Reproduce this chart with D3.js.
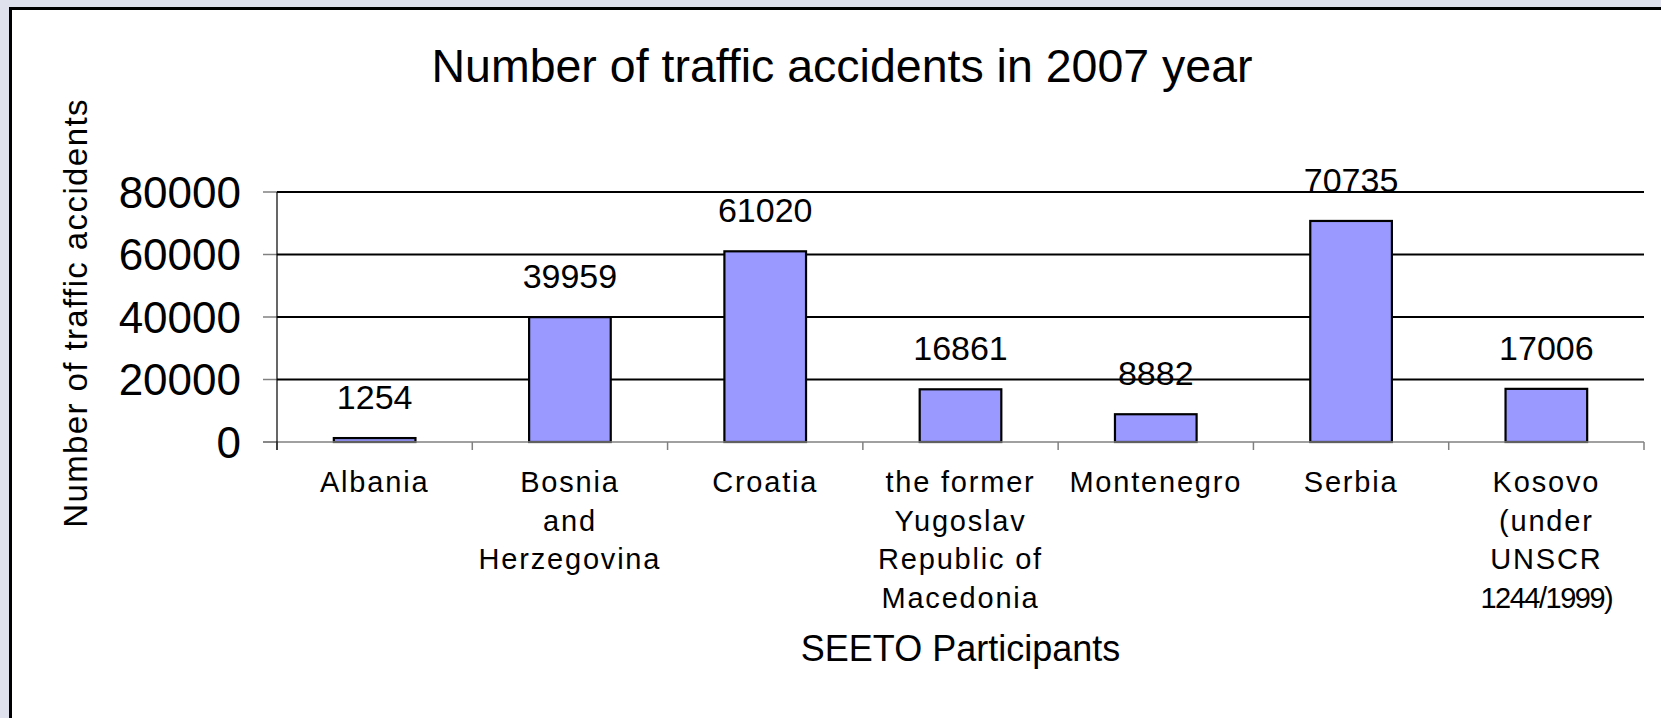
<!DOCTYPE html>
<html>
<head>
<meta charset="utf-8">
<script src="https://cdn.jsdelivr.net/npm/d3@7"></script>
<style>
  body { margin: 0; background: #dfe1ec; }
  svg { display: block; font-family: "Liberation Sans", Arial, sans-serif; }
</style>
</head>
<body>
<div class="graph"></div>
<script>
// chart data
var categories = [
  "Albania",
  "Bosnia\nand\nHerzegovina",
  "Croatia",
  "the former\nYugoslav\nRepublic of\nMacedonia",
  "Montenegro",
  "Serbia",
  "Kosovo\n(under\nUNSCR\n1244/1999)"
];
var accidents = [1254, 39959, 61020, 16861, 8882, 70735, 17006];
var yTicks = [0, 20000, 40000, 60000, 80000];

var chartTitle = "Number of traffic accidents in 2007 year";
var yTitle = "Number of traffic accidents";
var xTitle = "SEETO Participants";

// dimensions of the page and plot area
var W = 1661, H = 718;
var margin = {top: 192, right: 17, bottom: 276, left: 277},
    width = W - margin.left - margin.right,
    height = H - margin.top - margin.bottom;

var svg = d3.select(".graph").append("svg")
    .attr("width", W)
    .attr("height", H);

// white panel with its frame
svg.append("rect")
    .attr("x", 10.5).attr("y", 8.5)
    .attr("width", W + 50).attr("height", H + 50)
    .attr("fill", "#fff")
    .attr("stroke", "#000")
    .attr("stroke-width", 3);

var g = svg.append("g")
    .attr("transform", "translate(" + margin.left + "," + margin.top + ")");

// scales
var x = d3.scaleBand().domain(categories).range([0, width])
    .paddingInner(0.582).paddingOuter(0.291);
var xCell = d3.scaleBand().domain(categories).range([0, width]).padding(0);
var y = d3.scaleLinear().domain([0, 80000]).range([height, 0]);

// gridlines (black) with small gray ticks out to the left
g.selectAll("line.grid")
    .data(yTicks.filter(function(d) { return d > 0; }))
  .enter().append("line")
    .attr("class", "grid")
    .attr("x1", 0).attr("x2", width)
    .attr("y1", function(d) { return y(d); })
    .attr("y2", function(d) { return y(d); })
    .attr("stroke", "#000")
    .attr("stroke-width", 2);

g.selectAll("line.ytick")
    .data(yTicks)
  .enter().append("line")
    .attr("class", "ytick")
    .attr("x1", -14).attr("x2", 0)
    .attr("y1", function(d) { return y(d); })
    .attr("y2", function(d) { return y(d); })
    .attr("stroke", "#808080")
    .attr("stroke-width", 1.5);

// y tick labels
g.selectAll("text.ylab")
    .data(yTicks)
  .enter().append("text")
    .attr("class", "ylab")
    .attr("x", -36)
    .attr("y", function(d) { return y(d); })
    .attr("dy", "0.36em")
    .attr("text-anchor", "end")
    .style("font-size", "44px")
    .text(function(d) { return d; });

// bars
g.selectAll("rect.bar")
    .data(accidents)
  .enter().append("rect")
    .attr("class", "bar")
    .attr("x", function(d, i) { return x(categories[i]); })
    .attr("width", x.bandwidth())
    .attr("y", function(d) { return y(d); })
    .attr("height", function(d) { return height - y(d); })
    .attr("fill", "#9999ff")
    .attr("stroke", "#000")
    .attr("stroke-width", 2.2);

// value labels
g.selectAll("text.val")
    .data(accidents)
  .enter().append("text")
    .attr("class", "val")
    .attr("x", function(d, i) { return x(categories[i]) + x.bandwidth() / 2; })
    .attr("y", function(d) { return y(d) - 29; })
    .attr("text-anchor", "middle")
    .style("font-size", "34px")
    .text(function(d) { return d; });

// x axis baseline and category ticks
g.append("line")
    .attr("x1", -14).attr("x2", width)
    .attr("y1", height).attr("y2", height)
    .attr("stroke", "#808080")
    .attr("stroke-width", 1.5);

var cellEdges = categories.map(function(c) { return xCell(c); }).concat([width]);
g.selectAll("line.xtick")
    .data(cellEdges)
  .enter().append("line")
    .attr("class", "xtick")
    .attr("x1", function(d) { return d; })
    .attr("x2", function(d) { return d; })
    .attr("y1", height).attr("y2", height + 8)
    .attr("stroke", "#808080")
    .attr("stroke-width", 1.5);

// y axis line
g.append("line")
    .attr("x1", 0).attr("x2", 0)
    .attr("y1", 0).attr("y2", height + 8)
    .attr("stroke", "#000")
    .attr("stroke-width", 1.2);

// category labels, one tspan per line
var catText = g.selectAll("text.cat")
    .data(categories)
  .enter().append("text")
    .attr("class", "cat")
    .attr("text-anchor", "middle")
    .style("font-size", "29px")
    .style("letter-spacing", "1.8px")
    .attr("transform", function(d) {
      return "translate(" + (xCell(d) + xCell.bandwidth() / 2) + "," + (height + 50) + ")";
    });

catText.selectAll("tspan")
    .data(function(d) { return d.split("\n"); })
  .enter().append("tspan")
    .attr("x", 0)
    .attr("y", function(d, i) { return i * 38.5; })
    .style("letter-spacing", function(d) { return /\d/.test(d) ? "-1.5px" : null; })
    .text(function(d) { return d; });

// chart title
svg.append("text")
    .attr("x", 842)
    .attr("y", 82)
    .attr("text-anchor", "middle")
    .style("font-size", "46.5px")
    .text(chartTitle);

// axis titles
svg.append("text")
    .attr("x", margin.left + width / 2)
    .attr("y", 661)
    .attr("text-anchor", "middle")
    .style("font-size", "36px")
    .text(xTitle);

svg.append("text")
    .attr("transform", "translate(87,313) rotate(-90)")
    .attr("text-anchor", "middle")
    .style("font-size", "33px")
    .style("letter-spacing", "1.4px")
    .text(yTitle);
</script>
</body>
</html>
